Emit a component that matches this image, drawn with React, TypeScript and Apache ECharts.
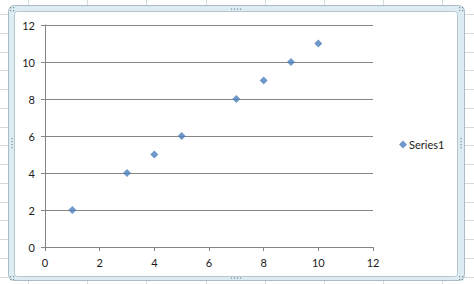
import React, { useEffect, useRef } from "react";
import * as echarts from "echarts";

const xValues = [1, 3, 4, 5, 7, 8, 9, 10];
const yValues = [2, 4, 5, 6, 8, 9, 10, 11];
const seriesName = "Series1";

export default function App() {
  const ref = useRef<HTMLDivElement>(null);
  useEffect(() => {
    const chart = echarts.init(ref.current!, null, { renderer: "svg" });
    const W = 474, H = 284;
    const sheet: any[] = [];
    for (let i = 0; i < 9; i++) {
      const x = Math.round(28 + i * 59.2) + 0.5;
      sheet.push({ type: "line", silent: true, z: -10, shape: { x1: x, y1: 0, x2: x, y2: H }, style: { stroke: "#d6dadc", lineWidth: 1 } });
    }
    for (let j = 0; j < 16; j++) {
      const y = Math.round(14 + j * 18.75) + 0.5;
      sheet.push({ type: "line", silent: true, z: -10, shape: { x1: 0, y1: y, x2: W, y2: y }, style: { stroke: "#d6dadc", lineWidth: 1 } });
    }
    const frame: any[] = [
      { type: "rect", silent: true, z: -9, shape: { x: 8.5, y: 5.5, width: 456, height: 275, r: 6 }, style: { fill: "#dcecf2", stroke: "#a8bcc6", lineWidth: 1 } },
      { type: "rect", silent: true, z: -8, shape: { x: 14.5, y: 11.5, width: 443, height: 265, r: 3 }, style: { fill: "#ffffff", stroke: "#b4c6cf", lineWidth: 1 } },
    ];
    const handleColor = "#7d8f9b";
    const dots: any[] = [];
    const corner = (cx: number, cy: number) => {
      for (const dx of [-1.5, 1.5]) for (const dy of [-1.5, 1.5])
        dots.push({ type: "rect", silent: true, z: -7, shape: { x: cx + dx - 0.5, y: cy + dy - 0.5, width: 1.2, height: 1.2 }, style: { fill: handleColor } });
    };
    corner(12, 9); corner(461, 9); corner(12, 278); corner(461, 278);
    const hline = (cx: number, cy: number) => {
      for (const dx of [-4.5, -1.5, 1.5, 4.5])
        dots.push({ type: "rect", silent: true, z: -7, shape: { x: cx + dx - 0.5, y: cy - 0.5, width: 1.2, height: 1.2 }, style: { fill: handleColor } });
    };
    const vline = (cx: number, cy: number) => {
      for (const dy of [-4.5, -1.5, 1.5, 4.5])
        dots.push({ type: "rect", silent: true, z: -7, shape: { x: cx - 0.5, y: cy + dy - 0.5, width: 1.2, height: 1.2 }, style: { fill: handleColor } });
    };
    hline(236, 9); hline(236, 278); vline(12, 143); vline(461, 143);

    const axisColor = "#868686";
    const font = "Lato, 'Open Sans', sans-serif";
    chart.setOption({
      animation: false,
      backgroundColor: "#ffffff",
      graphic: [...sheet, ...frame, ...dots],
      grid: { left: 45, top: 25, right: 101, bottom: 37, containLabel: false },
      xAxis: {
        type: "value", min: 0, max: 12, interval: 2,
        axisLine: { show: true, onZero: false, lineStyle: { color: axisColor } },
        axisTick: { show: true, length: 4, lineStyle: { color: axisColor } },
        splitLine: { show: false },
        axisLabel: { color: "#1a1a1a", fontSize: 11, fontFamily: font, margin: 10 },
      },
      yAxis: {
        type: "value", min: 0, max: 12, interval: 2,
        axisLine: { show: true, onZero: false, lineStyle: { color: axisColor } },
        axisTick: { show: true, length: 4, lineStyle: { color: axisColor } },
        splitLine: { show: true, lineStyle: { color: axisColor, width: 1 } },
        axisLabel: { color: "#1a1a1a", fontSize: 11, fontFamily: font, margin: 10 },
      },
      legend: {
        show: true, left: 394, top: 134, padding: 5, icon: "diamond", itemWidth: 8, itemHeight: 8,
        textStyle: { fontSize: 11, fontFamily: font, color: "#1a1a1a", padding: [0, 0, 0, -3] },
        data: [seriesName],
      },
      series: [{
        name: seriesName, type: "scatter", symbol: "diamond", symbolSize: 8,
        itemStyle: { color: "#4a7ebb" },
        data: xValues.map((x, i) => [x, yValues[i]]),
      }],
    });
    return () => chart.dispose();
  }, []);
  return <div ref={ref} style={{ position: "fixed", left: 0, top: 0, width: 474, height: 284 }} />;
}
